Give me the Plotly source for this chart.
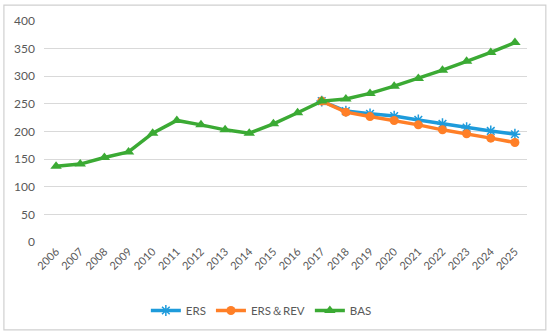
import plotly.graph_objects as go

years = [str(y) for y in range(2006, 2026)]
bas = [137, 141, 153, 163, 197, 220, 212, 203, 197, 214, 234, 255, 259, 269, 282, 296, 311, 327, 343, 361]
ers_years = [str(y) for y in range(2017, 2026)]
ers = [255, 237, 232, 228, 221, 214, 207, 201, 195]
ers_rev = [255, 235, 227, 220, 212, 203, 196, 188, 180]
y_ticks = [0, 50, 100, 150, 200, 250, 300, 350, 400]

fig = go.Figure()
fig.add_trace(go.Scatter(
    x=ers_years, y=ers, name="ERS", mode="lines+markers",
    line=dict(color="#1E9BDB", width=3.5),
    marker=dict(symbol="asterisk-open", size=9, color="#1E9BDB",
                line=dict(color="#1E9BDB", width=1.5)),
))
fig.add_trace(go.Scatter(
    x=ers_years, y=ers_rev, name="ERS＆REV", mode="lines+markers",
    line=dict(color="#FF7F27", width=3.5),
    marker=dict(symbol="circle", size=9, color="#FF7F27"),
))
fig.add_trace(go.Scatter(
    x=years, y=bas, name="BAS", mode="lines+markers",
    line=dict(color="#3BAA34", width=3.5),
    marker=dict(symbol="triangle-up", size=10, color="#3BAA34"),
))

fig.update_layout(
    width=550, height=335,
    margin=dict(l=44, r=23, t=21, b=93, autoexpand=False),
    paper_bgcolor="white", plot_bgcolor="white",
    font=dict(family="Lato, 'Noto Sans', sans-serif", size=12, color="#595959"),
    showlegend=True,
    legend=dict(orientation="h", x=0.45, xanchor="center", y=-0.31, yanchor="middle",
                font=dict(size=11.5, color="#595959"), traceorder="normal",
                itemwidth=30),
    xaxis=dict(type="category", categoryorder="array", categoryarray=years,
               range=[-0.5, 19.5], tickangle=-45, showgrid=False, showline=False,
               ticks="", tickfont=dict(size=11, color="#595959"), zeroline=False,
               automargin=False),
    yaxis=dict(range=[0, 400], tickvals=y_ticks, showgrid=True, gridcolor="#D9D9D9",
               gridwidth=1, zeroline=False, showline=False, ticks="",
               tickfont=dict(size=12, color="#595959"), ticklabelstandoff=8,
               automargin=False),
    shapes=[dict(type="rect", xref="paper", yref="paper",
                 x0=-0.083, x1=1.039, y0=-0.398, y1=1.072,
                 line=dict(color="#D0D0D0", width=1.2), layer="above")],
)

fig.write_html("out.html", config={"displayModeBar": False},
               post_script="document.body.style.margin='0';")
